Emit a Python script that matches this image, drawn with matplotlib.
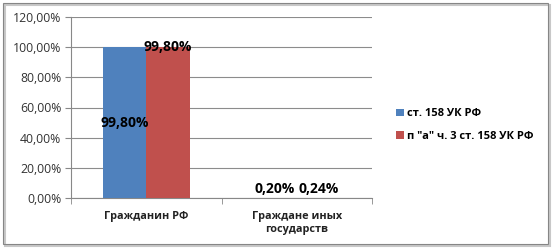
import matplotlib
matplotlib.use("Agg")
import matplotlib.pyplot as plt
from matplotlib.patches import Rectangle
import numpy as np

plt.rcParams['font.family'] = ['Open Sans', 'DejaVu Sans']

categories = ['Гражданин РФ', 'Граждане иных\nгосударств']
series_names = ['ст. 158 УК РФ', 'п "а" ч. 3 ст. 158 УК РФ']
values_158 = [99.80, 0.20]
values_158a = [99.80, 0.24]
y_ticks = [0, 20, 40, 60, 80, 100, 120]

BLUE = '#4F81BD'
RED = '#C0504D'

fig = plt.figure(figsize=(5.52, 2.48), dpi=100)
ax = fig.add_axes([71 / 552, 1 - 198 / 248, 301 / 552, 181 / 248])

x = np.arange(len(categories))
w = 0.29
b1 = ax.bar(x - w / 2, values_158, w, color=BLUE, label=series_names[0], zorder=3)
b2 = ax.bar(x + w / 2, values_158a, w, color=RED, label=series_names[1], zorder=3)

def fmt(v):
    return f'{v:.2f}%'.replace('.', ',')

# data labels
lab = dict(ha='center', va='center', fontsize=10, fontweight='bold', zorder=4)
ax.text(x[0] - w / 2, values_158[0] / 2, fmt(values_158[0]), **lab)
ax.text(x[0] + w / 2, values_158a[0], fmt(values_158a[0]), **lab)
ax.text(x[1] - w / 2, values_158[1] + 6, fmt(values_158[1]), **lab)
ax.text(x[1] + w / 2, values_158a[1] + 6, fmt(values_158a[1]), **lab)

ax.set_xlim(-0.5, 1.5)
ax.set_ylim(0, 120)
ax.set_yticks(y_ticks)
ax.set_yticklabels([fmt(t) for t in y_ticks], fontsize=8.8, color='#333333')
ax.set_xticks(x)
ax.set_xticklabels(categories, fontsize=7.8, fontweight='bold', color='#222222',
                   linespacing=1.3)
ax.set_xticks([-0.5, 0.5, 1.5], minor=True)
ax.tick_params(axis='x', which='major', length=0, pad=9)
ax.tick_params(axis='x', which='minor', length=4, color='#888888')
ax.tick_params(axis='y', length=4, color='#888888', pad=3)

ax.grid(axis='y', color='#8c8c8c', linewidth=0.8, zorder=0)
for s in ['top', 'right']:
    ax.spines[s].set_visible(False)
ax.spines['left'].set_color('#888888')
ax.spines['bottom'].set_color('#888888')

leg = fig.legend(handles=[b1, b2], loc='center left', bbox_to_anchor=(386 / 552, 1 - 125 / 248),
                 frameon=False, fontsize=8, handlelength=0.7, handleheight=0.7,
                 handletextpad=0.3, labelspacing=1.0)
for t in leg.get_texts():
    t.set_fontweight('bold')

# chart border with shadow
fig.patches.append(Rectangle((5 / 552, 1 - 246 / 248), 545 / 552, 241 / 248,
                             transform=fig.transFigure, facecolor='none',
                             edgecolor='#c8c8c8', linewidth=1.5, zorder=0))
fig.patches.append(Rectangle((3 / 552, 1 - 244 / 248), 545 / 552, 241 / 248,
                             transform=fig.transFigure, facecolor='none',
                             edgecolor='#868686', linewidth=0.8, zorder=1))

fig.savefig('out.png', dpi=100)
